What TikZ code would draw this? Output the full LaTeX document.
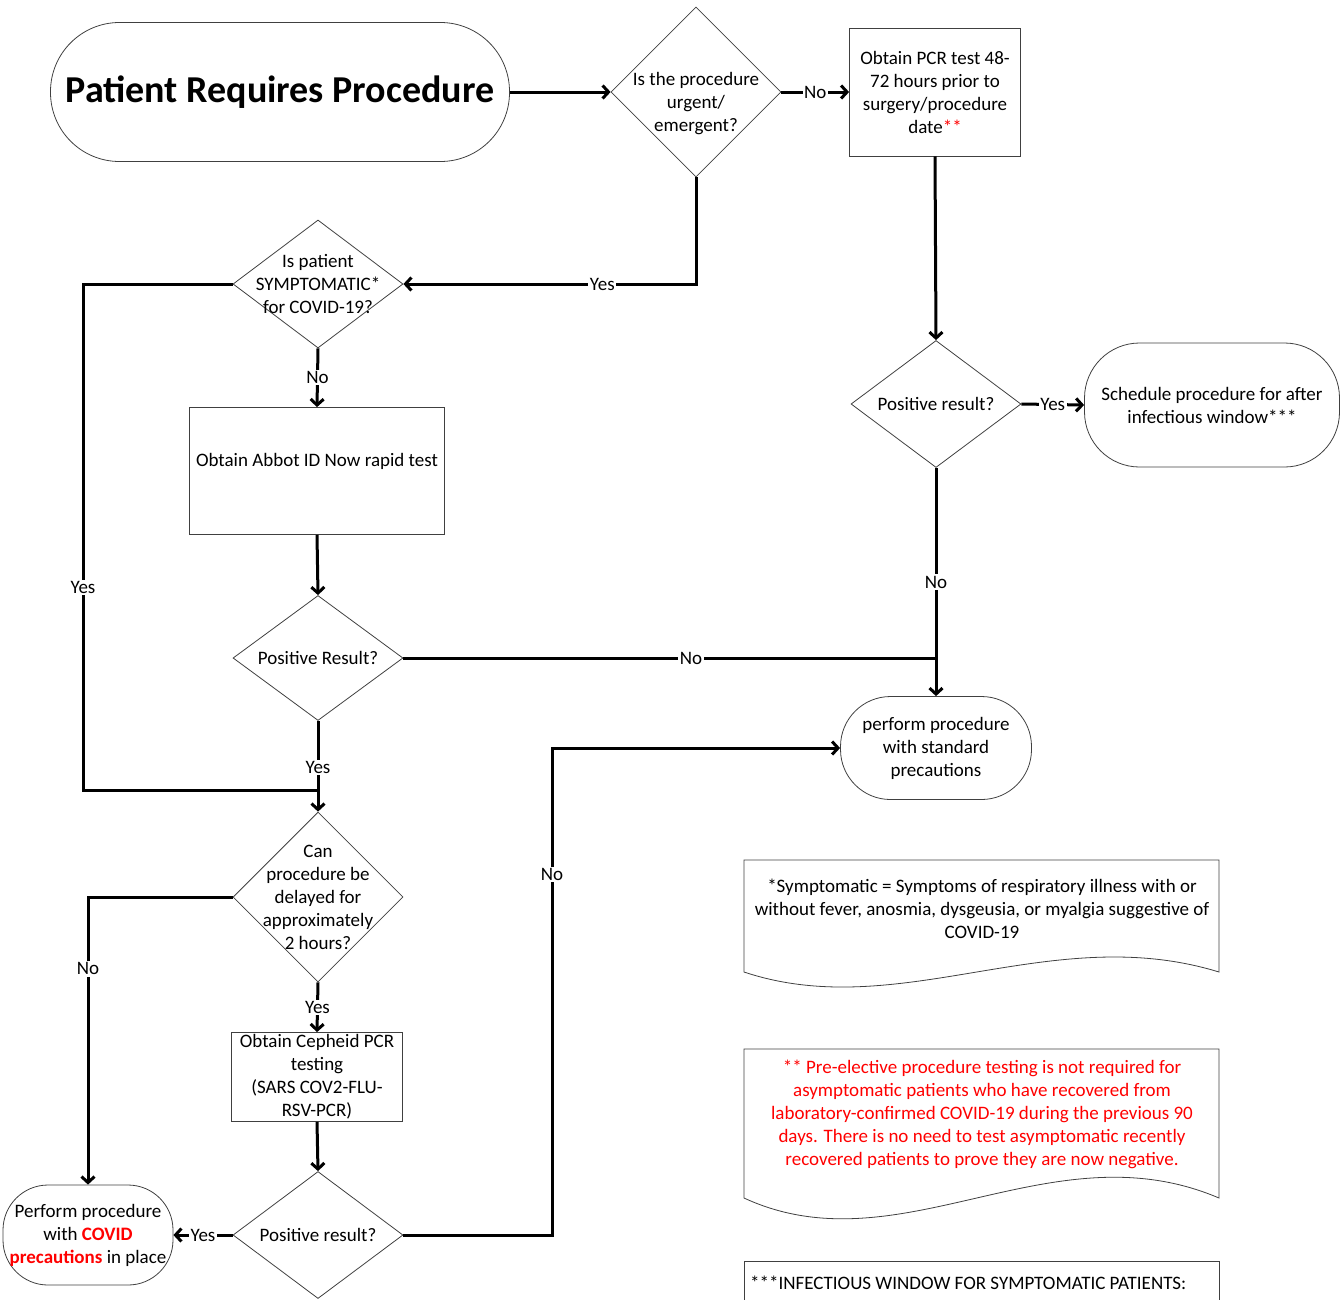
\documentclass[tikz,border=0pt]{standalone}
\usepackage{fontspec}
\setmainfont{Carlito}
\usetikzlibrary{shapes.geometric,arrows.meta}

\tikzstyle{decision}=[diamond,draw=black!75,line width=0.8pt,inner sep=0pt,minimum width=170pt]
\tikzstyle{process}=[rectangle,draw=black!75,line width=0.8pt,align=center,inner sep=0pt]
\tikzstyle{terminal}=[rectangle,draw=black!75,line width=0.8pt,align=center,inner sep=0pt]
\tikzstyle{qtext}=[align=center,inner sep=0pt]
\tikzstyle{docline}=[draw=black!75,line width=0.8pt]
\tikzstyle{link}=[line width=3pt]
\tikzstyle{conn}=[line width=3pt,-{Straight Barb[length=6pt,width=13pt]}]
\tikzstyle{tag}=[fill=white,inner sep=1.5pt]

\begin{document}
\begin{tikzpicture}[x=1pt,y=-1pt,font=\fontsize{19}{23}\selectfont]
	\useasboundingbox (0,0) rectangle (1340,1299);
	%Start and end points
	\node[terminal,rounded corners=69pt,minimum width=459pt,minimum height=139pt,
		font=\fontsize{38}{46}\selectfont\bfseries] (start) at (280,92) {Patient Requires Procedure};
	\node[terminal,rounded corners=55pt,minimum width=255pt,minimum height=124pt] (sched) at (1212,405)
		{Schedule procedure for after\\infectious window***};
	\node[terminal,rounded corners=50pt,minimum width=191pt,minimum height=103pt] (std) at (936,748)
		{perform procedure\\with standard\\precautions};
	\node[terminal,rounded corners=45pt,minimum width=170pt,minimum height=100pt] (covid) at (88,1235)
		{Perform procedure\\with \textcolor{red}{\bfseries COVID}\\\textcolor{red}{\bfseries precautions} in place};
	%The tests
	\node[process,minimum width=171pt,minimum height=128pt] (pcr) at (935,92)
		{Obtain PCR test 48-\\72 hours prior to\\surgery/procedure\\date\textcolor{red}{**}};
	\node[process,minimum width=255pt,minimum height=127pt] (abbot) at (317,471)
		{Obtain Abbot ID Now rapid test\\\mbox{}};
	\node[process,minimum width=171pt,minimum height=89pt] (ceph) at (317,1077)
		{Obtain Cepheid PCR\\testing\\(SARS COV2-FLU-\\RSV-PCR)};
	%The questions
	\node[decision,minimum height=170pt,label={[qtext,yshift=-12pt]center:{Is the procedure\\urgent/\\emergent?}}] (d1) at (696,92) {};
	\node[decision,minimum height=128pt,label={[qtext]center:{Is patient\\SYMPTOMATIC*\\for COVID-19?}}] (d2) at (318,284) {};
	\node[decision,minimum height=125pt,label={[qtext]center:{Positive Result?}}] (d3) at (318,658) {};
	\node[decision,minimum height=170pt,label={[qtext]center:{Can\\procedure be\\delayed for\\approximately\\2 hours?}}] (d4) at (318,897) {};
	\node[decision,minimum height=127pt,label={[qtext]center:{Positive result?}}] (d5) at (936,404) {};
	\node[decision,minimum height=127pt,label={[qtext]center:{Positive result?}}] (d6) at (318,1235) {};
	%The notes
	\foreach \top/\h/\a in {860/112/52, 1049/149/72}
		\draw[docline] (744,\top) -- (1219,\top) -- (1219,\top+\h)
			.. controls (1050,\top+\h-\a) and (900,\top+\h+\a) .. (744,\top+\h) -- cycle;
	\draw[docline] (744,1310) -- (744,1261) -- (1219,1261) -- (1219,1310);
	\node[qtext] (n1) at (982,909) {*Symptomatic = Symptoms of respiratory illness with or\\
		without fever, anosmia, dysgeusia, or myalgia suggestive of\\COVID-19};
	\node[qtext,text=red] (n2) at (982,1114) {** Pre-elective procedure testing is not required for\\
		asymptomatic patients who have recovered from\\
		laboratory-confirmed COVID-19 during the previous 90\\
		days. There is no need to test asymptomatic recently\\
		recovered patients to prove they are now negative.};
	\node[qtext,anchor=west] (n3) at (750,1283) {***INFECTIOUS WINDOW FOR SYMPTOMATIC PATIENTS:};
	%Connectors
	\coordinate (yesbend) at (83,790);
	\coordinate (nobend) at (552,748);
	\foreach \from/\to in {pcr/d5, abbot/d3, ceph/d6}
		\draw[conn] (\from.south) -- (\to.north);
	\draw[conn] (start.east) -- (d1.west);
	\draw[conn] (d1.east) -- node[tag] {No} (pcr.west);
	\draw[conn] (d1.south) |- node[tag,pos=.66] {Yes} (d2.east);
	\draw[link] (d2.west) -| node[tag,pos=.8] {Yes} (yesbend) -- (yesbend -| d4.north);
	\draw[conn] (d2.south) -- node[tag] {No} (abbot.north);
	\draw[link] (d3.east) -- node[tag,pos=.54] {No} (d3.east -| d5.south);
	\draw[conn] (d3.south) -- node[tag,pos=.51] {Yes} (d4.north);
	\draw[conn] (d5.south) -- node[tag] {No} (std.north);
	\draw[conn] (d5.east) -- node[tag] {Yes} (sched.west);
	\draw[conn] (d4.west) -| node[tag,pos=.625] {No} (covid.north);
	\draw[conn] (d4.south) -- node[tag] {Yes} (ceph.north);
	\draw[conn] (d6.west) -- node[tag] {Yes} (covid.east);
	\draw[conn] (d6.east) -| node[tag,pos=.87] {No} (nobend) -- (std.west);
\end{tikzpicture}
\end{document}
